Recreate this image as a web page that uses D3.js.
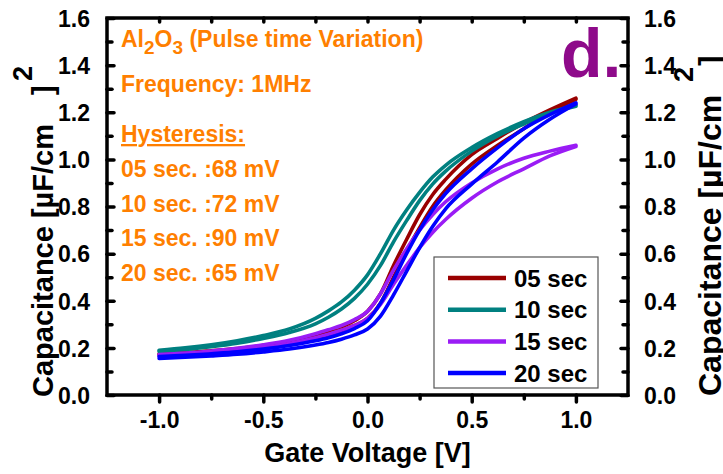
<!DOCTYPE html>
<html>
<head>
<meta charset="utf-8">
<script src="https://cdn.jsdelivr.net/npm/d3@7"></script>
<style>
body { margin: 0; background: #fff; }
text { font-family: "Liberation Sans", Arial, sans-serif; font-weight: bold; }
</style>
</head>
<body>
<div id="chart"></div>
<script>
// gate voltage sweep points [V]
var voltages = [-1, -0.875, -0.75, -0.625, -0.5, -0.375, -0.25, -0.1875, -0.125, -0.0625, 0,
                0.0625, 0.125, 0.1875, 0.25, 0.3125, 0.375, 0.5, 0.625, 0.75, 0.875, 1];

// capacitance [uF/cm2], the two sweep directions for each pulse time
var sec05Fwd = [0.175, 0.180, 0.188, 0.197, 0.210, 0.228, 0.255, 0.272, 0.29, 0.315, 0.355,
                0.43, 0.55, 0.66, 0.765, 0.85, 0.915, 1.02, 1.09, 1.155, 1.21, 1.26];
var sec05Rev = [0.170, 0.175, 0.182, 0.190, 0.202, 0.218, 0.242, 0.257, 0.275, 0.295, 0.325,
                0.39, 0.50, 0.61, 0.71, 0.80, 0.87, 0.98, 1.06, 1.13, 1.20, 1.255];
var sec10Fwd = [0.19, 0.20, 0.213, 0.23, 0.252, 0.28, 0.325, 0.357, 0.395, 0.445, 0.51,
                0.60, 0.70, 0.785, 0.86, 0.925, 0.975, 1.05, 1.11, 1.16, 1.20, 1.23];
var sec10Rev = [0.185, 0.193, 0.205, 0.22, 0.24, 0.265, 0.302, 0.33, 0.365, 0.41, 0.47,
                0.55, 0.65, 0.74, 0.825, 0.895, 0.95, 1.035, 1.10, 1.15, 1.195, 1.225];
var sec15Fwd = [0.172, 0.178, 0.187, 0.198, 0.213, 0.232, 0.26, 0.277, 0.295, 0.32, 0.355,
                0.43, 0.53, 0.62, 0.70, 0.765, 0.82, 0.90, 0.96, 1.005, 1.035, 1.06];
var sec15Rev = [0.166, 0.171, 0.179, 0.189, 0.202, 0.219, 0.243, 0.258, 0.275, 0.295, 0.325,
                0.385, 0.47, 0.55, 0.625, 0.69, 0.745, 0.835, 0.905, 0.96, 1.015, 1.055];
var sec20Fwd = [0.163, 0.168, 0.175, 0.183, 0.195, 0.21, 0.23, 0.243, 0.26, 0.282, 0.315,
                0.39, 0.49, 0.60, 0.70, 0.785, 0.855, 0.96, 1.05, 1.13, 1.19, 1.24];
var sec20Rev = [0.155, 0.16, 0.166, 0.173, 0.183, 0.195, 0.212, 0.223, 0.237, 0.255, 0.28,
                0.335, 0.425, 0.525, 0.625, 0.715, 0.79, 0.895, 0.99, 1.09, 1.17, 1.235];

var seriesNames = ["05 sec", "10 sec", "15 sec", "20 sec"];
var seriesColors = ["#990000", "#008080", "#9a1cf5", "#0000ff"];
var hysteresisLabels = ["05 sec. :68 mV", "10 sec. :72 mV", "15 sec. :90 mV", "20 sec. :65 mV"];

var xTicks = [-1.0, -0.5, 0.0, 0.5, 1.0];
var yTicks = [0.0, 0.2, 0.4, 0.6, 0.8, 1.0, 1.2, 1.4, 1.6];

var series = [
    {name: seriesNames[0], color: seriesColors[0], loops: [sec05Fwd, sec05Rev]},
    {name: seriesNames[1], color: seriesColors[1], loops: [sec10Fwd, sec10Rev]},
    {name: seriesNames[2], color: seriesColors[2], loops: [sec15Fwd, sec15Rev]},
    {name: seriesNames[3], color: seriesColors[3], loops: [sec20Fwd, sec20Rev]}
];

var width = 723, height = 474;
var pLeft = 107, pRight = 628, pTop = 18, pBottom = 395;

var svg = d3.select("#chart").append("svg").attr("width", width).attr("height", height);

var x = d3.scaleLinear().domain([-1.25, 1.25]).range([pLeft, pRight]);
var y = d3.scaleLinear().domain([0, 1.6]).range([pBottom, pTop]);

// plain hyphen minus like the original
var fmt = function(d) { return d3.format(".1f")(d).replace("\u2212", "-"); };

// curves
var line = d3.line()
    .x(function(d) { return x(d[0]); })
    .y(function(d) { return y(d[1]); })
    .curve(d3.curveMonotoneX);

series.forEach(function(s) {
    s.loops.forEach(function(vals) {
        svg.append("path")
            .datum(voltages.map(function(v, i) { return [v, vals[i]]; }))
            .attr("fill", "none")
            .attr("stroke", s.color)
            .attr("stroke-width", 3.6)
            .attr("stroke-linecap", "round")
            .attr("d", line);
    });
});

// axes: ticks drawn via d3 axes, frame drawn as thick lines
var tickFont = "23px";
var bottomAxis = svg.append("g").attr("transform", "translate(0," + pBottom + ")")
    .call(d3.axisBottom(x).tickValues(xTicks).tickSize(7).tickPadding(9).tickFormat(fmt));
var bottomMinor = svg.append("g").attr("transform", "translate(0," + pBottom + ")")
    .call(d3.axisBottom(x).tickValues([-0.75, -0.25, 0.25, 0.75]).tickSize(4).tickFormat(""));
var topAxis = svg.append("g").attr("transform", "translate(0," + pTop + ")")
    .call(d3.axisTop(x).tickValues([-1, -0.75, -0.5, -0.25, 0, 0.25, 0.5, 0.75, 1]).tickSize(-4).tickFormat(""));

var leftAxis = svg.append("g").attr("transform", "translate(" + pLeft + ",0)")
    .call(d3.axisLeft(y).tickValues(yTicks).tickSize(-7).tickPadding(17).tickFormat(fmt));
var leftMinor = svg.append("g").attr("transform", "translate(" + pLeft + ",0)")
    .call(d3.axisLeft(y).tickValues([0.1, 0.3, 0.5, 0.7, 0.9, 1.1, 1.3, 1.5]).tickSize(-5).tickFormat(""));
var rightAxis = svg.append("g").attr("transform", "translate(" + pRight + ",0)")
    .call(d3.axisRight(y).tickValues(yTicks).tickSize(-7).tickPadding(16).tickFormat(fmt));
var rightMinor = svg.append("g").attr("transform", "translate(" + pRight + ",0)")
    .call(d3.axisRight(y).tickValues([0.1, 0.3, 0.5, 0.7, 0.9, 1.1, 1.3, 1.5]).tickSize(-5).tickFormat(""));

svg.selectAll(".domain").remove();
svg.selectAll(".tick line").attr("stroke", "#000").attr("stroke-width", 3.5).attr("stroke-linecap", "round");
svg.selectAll(".tick text")
    .style("font-size", tickFont)
    .style("font-weight", "bold")
    .attr("fill", "#000");
leftAxis.selectAll(".tick text").attr("dy", "0.36em");
rightAxis.selectAll(".tick text").attr("dy", "0.36em");
bottomAxis.selectAll(".tick text").attr("dy", "0.72em");

svg.append("rect")
    .attr("x", pLeft).attr("y", pTop)
    .attr("width", pRight - pLeft).attr("height", pBottom - pTop)
    .attr("fill", "none").attr("stroke", "#000").attr("stroke-width", 3.5);

// axis titles
svg.append("text")
    .attr("x", (pLeft + pRight) / 2).attr("y", 462)
    .attr("text-anchor", "middle")
    .style("font-size", "27px")
    .text("Gate Voltage [V]");

// left title
var lt = svg.append("g").attr("transform", "translate(53,397) rotate(-90)");
lt.append("text").attr("x", 0).attr("y", 0).style("font-size", "29px").text("Capacitance [\u00b5F/cm");
lt.append("text").attr("x", 302).attr("y", 0).style("font-size", "29px").text("]");
lt.append("text").attr("x", 316).attr("y", -21).style("font-size", "27px").text("2");

// right title (runs into the page edge as in the original)
var rt = svg.append("g").attr("transform", "translate(721,396) rotate(-90)");
rt.append("text").attr("x", 0).attr("y", 0).style("font-size", "32px").text("Capacitance [\u00b5F/cm");
rt.append("text").attr("x", 314).attr("y", -28).style("font-size", "27px").text("2");
rt.append("text").attr("x", 330).attr("y", 0).style("font-size", "32px").text("]");

// annotations
var orange = "#ff7f00";
var ann = svg.append("text").attr("x", 121).attr("y", 47).attr("fill", orange).style("font-size", "23px");
ann.append("tspan").text("Al");
ann.append("tspan").attr("dy", 7).style("font-size", "19px").text("2");
ann.append("tspan").attr("dy", -7).text("O");
ann.append("tspan").attr("dy", 7).style("font-size", "19px").text("3");
ann.append("tspan").attr("dy", -7).text(" (Pulse time Variation)");

svg.append("text").attr("x", 121).attr("y", 92).attr("fill", orange).style("font-size", "23px")
    .text("Frequency: 1MHz");
svg.append("text").attr("x", 121).attr("y", 142).attr("fill", orange).style("font-size", "23px")
    .style("text-decoration", "underline")
    .text("Hysteresis:");
svg.selectAll(".hyst")
    .data(hysteresisLabels)
    .enter().append("text")
    .attr("class", "hyst")
    .attr("x", 121)
    .attr("y", function(d, i) { return 177 + i * 34.5; })
    .attr("fill", orange)
    .style("font-size", "23px")
    .text(function(d) { return d; });

svg.append("text")
    .attr("x", 561).attr("y", 77)
    .attr("fill", "#8e0a8a")
    .style("font-size", "68px")
    .text("d.");

// legend
var legend = svg.append("g");
legend.append("rect")
    .attr("x", 434).attr("y", 257).attr("width", 164).attr("height", 131)
    .attr("fill", "#fff").attr("stroke", "#555").attr("stroke-width", 1.2);
var item = legend.selectAll(".item")
    .data(series)
    .enter().append("g")
    .attr("class", "item")
    .attr("transform", function(d, i) { return "translate(0," + (278 + i * 31.7) + ")"; });
item.append("line")
    .attr("x1", 448).attr("x2", 506)
    .attr("stroke", function(d) { return d.color; })
    .attr("stroke-width", 4.5);
item.append("text")
    .attr("x", 514).attr("dy", "0.36em")
    .style("font-size", "24px")
    .text(function(d) { return d.name; });
</script>
</body>
</html>
